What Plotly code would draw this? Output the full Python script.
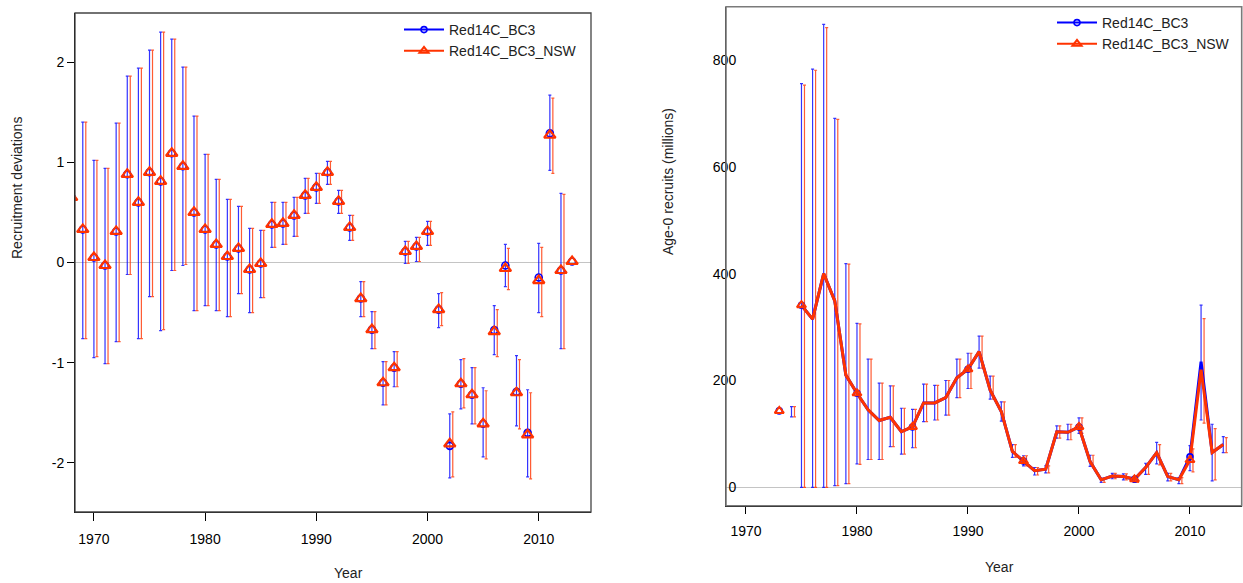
import plotly.graph_objects as go

# ---------------- recruitment deviations ----------------
dev_years = list(range(1968, 2014))
dev_bc3 = [0.65, 0.33, 0.05, -0.03, 0.31, 0.88, 0.60, 0.90, 0.81, 1.09,
           0.96, 0.50, 0.33, 0.18, 0.06, 0.14, -0.07, -0.01, 0.38, 0.39,
           0.47, 0.67, 0.75, 0.90, 0.61, 0.35, -0.36, -0.67, -1.20, -1.05,
           0.11, 0.16, 0.31, -0.47, -1.83, -1.21, -1.32, -1.61, -0.675, -0.03,
           -1.29, -1.70, -0.15, 1.29, -0.08, 0.01]
dev_nsw = [0.65, 0.33, 0.05, -0.03, 0.31, 0.88, 0.60, 0.90, 0.81, 1.09,
           0.96, 0.50, 0.33, 0.18, 0.06, 0.14, -0.07, -0.01, 0.38, 0.39,
           0.47, 0.67, 0.75, 0.90, 0.61, 0.35, -0.36, -0.67, -1.20, -1.05,
           0.11, 0.16, 0.31, -0.47, -1.81, -1.21, -1.32, -1.61, -0.69, -0.06,
           -1.30, -1.72, -0.18, 1.27, -0.08, 0.01]
dev_bc3_hi = [None, 1.40, 1.02, 0.94, 1.39, 1.86, 1.94, 2.12, 2.30, 2.23,
              1.95, 1.46, 1.08, 0.83, 0.63, 0.56, 0.34, 0.32, 0.60, 0.60,
              0.65, 0.84, 0.89, 1.01, 0.72, 0.47, -0.19, -0.49, -0.99, -0.89,
              0.21, 0.25, 0.41, -0.31, -1.51, -0.97, -1.05, -1.25, -0.43, 0.18,
              -0.93, -1.27, 0.19, 1.67, 0.69, None]
dev_bc3_lo = [None, -0.76, -0.95, -1.01, -0.79, -0.12, -0.76, -0.34, -0.68, -0.08,
              -0.03, -0.48, -0.43, -0.48, -0.54, -0.31, -0.50, -0.35, 0.15, 0.18,
              0.26, 0.49, 0.59, 0.78, 0.49, 0.22, -0.54, -0.86, -1.42, -1.24,
              -0.01, 0.01, 0.17, -0.65, -2.15, -1.46, -1.61, -1.94, -0.92, -0.24,
              -1.63, -2.14, -0.50, 0.92, -0.86, None]
dev_nsw_hi = [None, 1.40, 1.02, 0.94, 1.39, 1.86, 1.94, 2.12, 2.30, 2.23,
              1.95, 1.46, 1.08, 0.83, 0.63, 0.56, 0.34, 0.32, 0.60, 0.60,
              0.65, 0.84, 0.89, 1.01, 0.72, 0.47, -0.19, -0.49, -0.99, -0.89,
              0.21, 0.25, 0.41, -0.30, -1.49, -0.96, -1.05, -1.28, -0.47, 0.14,
              -0.97, -1.30, 0.15, 1.64, 0.68, None]
dev_nsw_lo = [None, -0.76, -0.94, -1.01, -0.79, -0.12, -0.76, -0.34, -0.67, -0.08,
              -0.02, -0.48, -0.43, -0.48, -0.54, -0.31, -0.50, -0.35, 0.15, 0.18,
              0.26, 0.49, 0.59, 0.78, 0.49, 0.22, -0.54, -0.86, -1.42, -1.24,
              -0.01, 0.01, 0.17, -0.63, -2.14, -1.45, -1.61, -1.96, -0.94, -0.27,
              -1.66, -2.16, -0.54, 0.89, -0.86, None]

# ---------------- age-0 recruits (millions) ----------------
rec_years = list(range(1975, 2014))
rec_bc3 = [341, 315, 400, 349, 210, 176, 145, 125, 131, 104,
           113, 158, 158, 168, 205, 221, 254, 182, 142, 67,
           49, 31, 34, 104, 103, 113, 48, 14, 21, 20,
           15, 37, 65, 20, 14, 57, 235, 65, 80]
rec_nsw = [341, 315, 400, 349, 210, 176, 145, 125, 131, 104,
           113, 158, 158, 168, 205, 221, 254, 182, 142, 67,
           49, 31, 34, 104, 103, 113, 48, 14, 21, 20,
           15, 37, 65, 20, 14, 51, 220, 65, 80]
rec_bc3_hi = [756, 783, 867, 691, 419, 307, 240, 195, 190, 148,
              146, 193, 191, 200, 240, 251, 283, 208, 160, 80,
              59, 37, 40, 115, 118, 130, 60, 17, 26, 25,
              21, 45, 84, 26, 18, 78, 341, 118, 95]
rec_bc3_lo = [0, 0, 0, 3, 7, 44, 52, 52, 76, 62,
              74, 123, 126, 135, 168, 185, 223, 165, 124, 56,
              40, 23, 27, 92, 89, 101, 39, 9, 16, 14,
              9, 24, 44, 12, 7, 31, 126, 12, 65]
rec_nsw_hi = [753, 781, 861, 689, 418, 306, 240, 195, 190, 148,
              146, 193, 191, 200, 240, 251, 283, 208, 160, 80,
              59, 37, 40, 115, 118, 130, 60, 17, 26, 25,
              21, 45, 80, 26, 18, 72, 316, 110, 93]
rec_nsw_lo = [0, 0, 0, 3, 7, 43, 52, 52, 76, 62,
              74, 123, 126, 135, 168, 185, 223, 165, 124, 56,
              40, 23, 27, 92, 89, 101, 39, 9, 16, 14,
              9, 24, 42, 12, 7, 29, 120, 14, 65]

# unfished (virgin) recruitment
r0_year = 1973
r0_bc3, r0_nsw = 143, 143
r0_hi, r0_lo = 151, 132

names = ["Red14C_BC3", "Red14C_BC3_NSW"]
year_ticks = [1970, 1980, 1990, 2000, 2010]
dev_ticks = [-2, -1, 0, 1, 2]
dev_ticktext = ["-2", "-1", "0", "1", "2"]
rec_ticks = [0, 200, 400, 600, 800]

BLUE = "#0000FF"
RED = "#FF3300"
BLUE_BAR = "rgba(0,0,255,0.8)"
RED_BAR = "rgba(255,51,0,0.8)"
FONT = "Liberation Sans, Arial, sans-serif"

W, H = 1243, 583
RED_SHIFT = 0.27  # horizontal nudge so the two sets of intervals don't overlap


def bar_trace(years, vals, hi, lo, shift, color, xa, ya):
    xs, ys, up, dn = [], [], [], []
    for yr, v, h, l in zip(years, vals, hi, lo):
        if h is None or l is None:
            continue
        xs.append(yr + shift)
        ys.append(v)
        up.append(h - v)
        dn.append(v - l)
    return go.Scatter(
        x=xs, y=ys, mode="markers", marker=dict(size=1, opacity=0),
        error_y=dict(type="data", symmetric=False, array=up, arrayminus=dn,
                     color=color, thickness=1.2, width=1.5),
        xaxis=xa, yaxis=ya, showlegend=False, hoverinfo="skip")


fig = go.Figure()

# ---- left panel: deviations with intervals ----
fig.add_trace(bar_trace(dev_years, dev_bc3, dev_bc3_hi, dev_bc3_lo, 0.0, BLUE_BAR, "x", "y"))
fig.add_trace(bar_trace(dev_years, dev_nsw, dev_nsw_hi, dev_nsw_lo, RED_SHIFT, RED_BAR, "x", "y"))
fig.add_trace(go.Scatter(x=dev_years, y=dev_bc3, mode="markers", name=names[0],
                         marker=dict(symbol="circle-open", size=7, color=BLUE, line=dict(width=1.6)),
                         xaxis="x", yaxis="y", showlegend=False))
fig.add_trace(go.Scatter(x=dev_years, y=dev_nsw, mode="markers", name=names[1],
                         marker=dict(symbol="triangle-up-open", size=10, color=RED, line=dict(width=2.2)),
                         xaxis="x", yaxis="y", showlegend=False))

# ---- right panel: recruitment time series ----
fig.add_trace(bar_trace(rec_years + [r0_year + 1.1], rec_bc3 + [r0_bc3],
                        rec_bc3_hi + [r0_hi], rec_bc3_lo + [r0_lo], 0.0, BLUE_BAR, "x2", "y2"))
fig.add_trace(bar_trace(rec_years + [r0_year + 1.1], rec_nsw + [r0_nsw],
                        rec_nsw_hi + [r0_hi], rec_nsw_lo + [r0_lo], RED_SHIFT, RED_BAR, "x2", "y2"))
fig.add_trace(go.Scatter(x=rec_years, y=rec_bc3, mode="lines", line=dict(color=BLUE, width=3),
                         xaxis="x2", yaxis="y2", showlegend=False, name=names[0]))
fig.add_trace(go.Scatter(x=rec_years, y=rec_nsw, mode="lines", line=dict(color=RED, width=3),
                         xaxis="x2", yaxis="y2", showlegend=False, name=names[1]))

# points every fifth year plus the unfished value
pt_years = [r0_year] + [y for y in rec_years if y % 5 == 0]
pt_bc3 = [r0_bc3] + [v for y, v in zip(rec_years, rec_bc3) if y % 5 == 0]
pt_nsw = [r0_nsw] + [v for y, v in zip(rec_years, rec_nsw) if y % 5 == 0]
fig.add_trace(go.Scatter(x=pt_years, y=pt_bc3, mode="markers",
                         marker=dict(symbol="circle-open", size=6, color=BLUE, line=dict(width=1.6)),
                         xaxis="x2", yaxis="y2", showlegend=False, name=names[0]))
fig.add_trace(go.Scatter(x=pt_years, y=pt_nsw, mode="markers",
                         marker=dict(symbol="triangle-up-open", size=8, color=RED, line=dict(width=2)),
                         xaxis="x2", yaxis="y2", showlegend=False, name=names[1]))

# ---- legend entries (one legend per panel) ----
for leg, xa, ya in (("legend", "x", "y"), ("legend2", "x2", "y2")):
    fig.add_trace(go.Scatter(x=[None], y=[None], mode="lines+markers", name=names[0],
                             line=dict(color=BLUE, width=2),
                             marker=dict(symbol="circle-open", size=6, color=BLUE, line=dict(width=1.6)),
                             xaxis=xa, yaxis=ya, legend=leg))
    fig.add_trace(go.Scatter(x=[None], y=[None], mode="lines+markers", name=names[1],
                             line=dict(color=RED, width=2),
                             marker=dict(symbol="triangle-up-open", size=8, color=RED, line=dict(width=2)),
                             xaxis=xa, yaxis=ya, legend=leg))

axis_common = dict(showgrid=False, showline=True, linecolor="black", linewidth=1,
                   tickcolor="black", tickfont=dict(family=FONT, size=14, color="black"))

left_x = [75 / W, 591 / W]
left_y = [(H - 512) / H, (H - 13) / H]
right_x = [726 / W, 1241.7 / W]
right_y = [(H - 505.7) / H, (H - 6.7) / H]

legend_common = dict(bgcolor="rgba(0,0,0,0)", borderwidth=0, font=dict(family=FONT, size=14, color="#222"),
                     xanchor="left", yanchor="top", tracegroupgap=0, itemwidth=40)

title_font = dict(size=14, family=FONT, color="#222")


def label(text, px, py, angle=0):
    return dict(text=text, x=px / W, y=(H - py) / H, xref="paper", yref="paper",
                xanchor="center", yanchor="middle", textangle=angle,
                showarrow=False, font=title_font)


fig.update_layout(
    width=W, height=H, margin=dict(l=0, r=0, t=0, b=0),
    paper_bgcolor="white", plot_bgcolor="white",
    font=dict(family=FONT, size=14, color="black"),
    xaxis=dict(domain=left_x, range=[1968.3, 2014.7], tickvals=year_ticks,
               ticks="outside", ticklen=8, ticklabelstandoff=6, zeroline=False, **axis_common),
    yaxis=dict(domain=left_y, range=[-2.49, 2.49], tickvals=dev_ticks, ticktext=dev_ticktext,
               ticks="outside", ticklen=7, zeroline=True, zerolinecolor="#c4c4c4", zerolinewidth=1,
               **axis_common),
    xaxis2=dict(domain=right_x, range=[1968.2, 2014.66], tickvals=year_ticks, anchor="y2",
                ticks="outside", ticklen=7, ticklabelstandoff=5, zeroline=False, **axis_common),
    yaxis2=dict(domain=right_y, range=[-34.5, 900], tickvals=rec_ticks, anchor="x2",
                ticks="", ticklabelstandoff=-14, zeroline=True, zerolinecolor="#c4c4c4",
                zerolinewidth=1, **axis_common),
    legend=dict(x=399 / W, y=(H - 14) / H, **legend_common),
    legend2=dict(x=1052 / W, y=(H - 7) / H, **legend_common),
    shapes=[
        dict(type="rect", xref="x domain", yref="y domain", x0=0, x1=1, y0=0, y1=1,
             line=dict(color="#444", width=1.3), layer="above"),
        dict(type="rect", xref="x2 domain", yref="y2 domain", x0=0, x1=1, y0=0, y1=1,
             line=dict(color="#7a7a7a", width=1.6), layer="above"),
    ],
    annotations=[
        label("Year", 348, 573),
        label("Year", 999, 567),
        label("Recruitment deviations", 17, 188, -90),
        label("Age-0 recruits (millions)", 668, 181, -90),
    ],
)

fig.write_html("out.html")
